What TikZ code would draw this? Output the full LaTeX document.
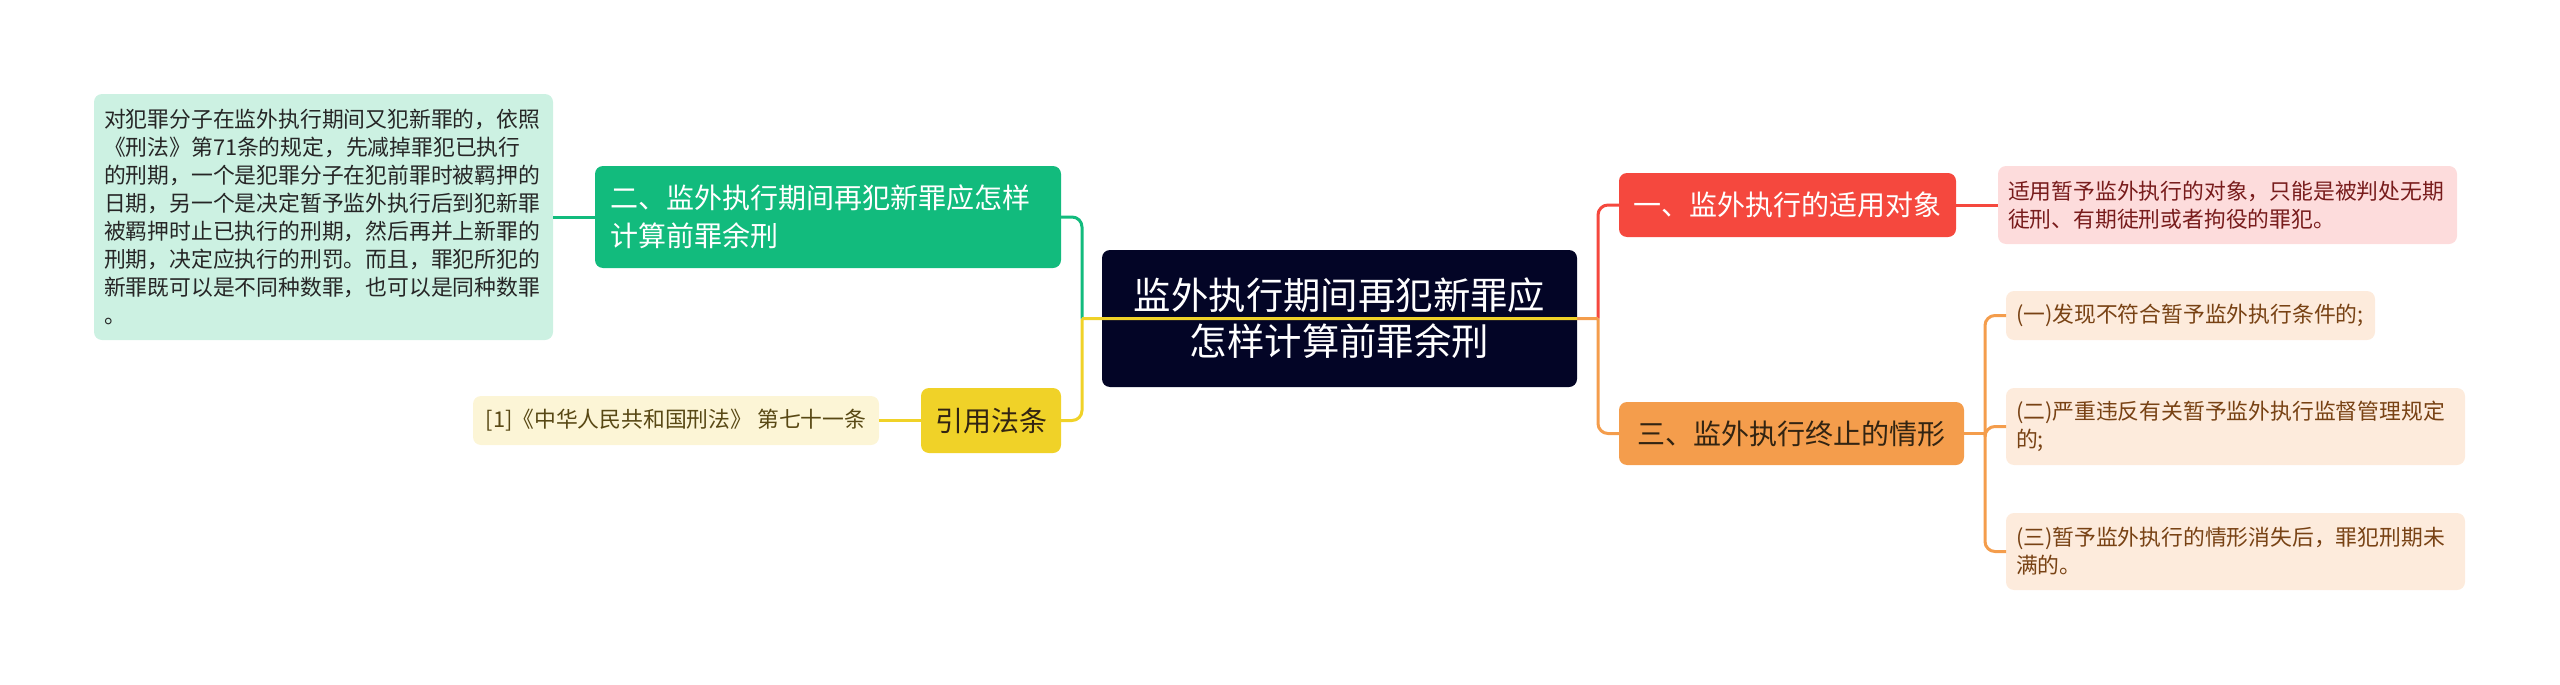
\documentclass[tikz,border=0pt]{standalone}
\usepackage{fontspec}
\setmainfont{Noto Sans CJK SC}
\usetikzlibrary{positioning}

\definecolor{rootbg}{RGB}{3,5,38}
\definecolor{greenc}{RGB}{18,187,125}
\definecolor{greenbg}{RGB}{204,241,226}
\definecolor{yellowc}{RGB}{240,210,40}
\definecolor{yellowbg}{RGB}{252,245,214}
\definecolor{yellowtx}{RGB}{88,72,20}
\definecolor{redc}{RGB}{245,72,62}
\definecolor{redbg}{RGB}{253,220,220}
\definecolor{redtx}{RGB}{120,28,28}
\definecolor{orangec}{RGB}{244,157,76}
\definecolor{orangebg}{RGB}{253,235,220}
\definecolor{orangetx}{RGB}{120,66,20}
\definecolor{darktx}{RGB}{50,36,18}

\begin{document}
\begin{tikzpicture}[x=0.5pt,y=-0.5pt]
  \tikzstyle{every node}=[rectangle,rounded corners=4pt,inner sep=0,outer sep=0]
  \tikzstyle{root}=[fill=rootbg,text=white,align=center,font=\fontsize{18.7}{23}\selectfont]
  \tikzstyle{topic}=[align=center,font=\fontsize{14}{19}\selectfont]
  \tikzstyle{note}=[align=left,font=\fontsize{10.9}{14}\selectfont]
  \tikzstyle{link}=[line width=1.5pt,rounded corners=5pt]
  \useasboundingbox (0,0) rectangle (2560,685);

  % centre
  \node[root,minimum width=237.5pt,minimum height=68.5pt] (root) at (1339.5,318.5)
    {监外执行期间再犯新罪应\\怎样计算前罪余刑};

  % left side
  \node[topic,fill=greenc,text=white,align=left,text width=218pt,inner xsep=7.5pt,minimum height=51pt]
    (sec2) at (828,217) {二、监外执行期间再犯新罪应怎样\\计算前罪余刑};
  \node[note,fill=greenbg,text=black!85,text width=219.5pt,inner xsep=5pt,minimum height=123pt,left=21pt of sec2]
    (sec2note) {对犯罪分子在监外执行期间又犯新罪的，依照\\《刑法》第71条的规定，先减掉罪犯已执行\\的刑期，一个是犯罪分子在犯前罪时被羁押的\\日期，另一个是决定暂予监外执行后到犯新罪\\被羁押时止已执行的刑期，然后再并上新罪的\\刑期，决定应执行的刑罚。而且，罪犯所犯的\\新罪既可以是不同种数罪，也可以是同种数罪\\。};
  \node[topic,fill=yellowc,text=darktx,minimum width=70pt,minimum height=32.5pt]
    (cite) at (991,420.5) {引用法条};
  \node[note,fill=yellowbg,text=yellowtx,minimum width=203pt,minimum height=24.5pt,left=21pt of cite]
    (citenote) {[1]《中华人民共和国刑法》 第七十一条};

  % right side
  \node[topic,fill=redc,text=white,minimum width=168.5pt,minimum height=32pt]
    (sec1) at (1787.5,205) {一、监外执行的适用对象};
  \node[note,fill=redbg,text=redtx,text width=219.5pt,inner xsep=5pt,minimum height=39pt,right=21pt of sec1]
    (sec1note) {适用暂予监外执行的对象，只能是被判处无期\\徒刑、有期徒刑或者拘役的罪犯。};
  \node[topic,fill=orangec,text=darktx,minimum width=172.5pt,minimum height=31.5pt]
    (sec3) at (1791.5,433.5) {三、监外执行终止的情形};
  \node[note,fill=orangebg,text=orangetx,text width=174.5pt,inner xsep=5pt,minimum height=24.5pt,anchor=west]
    (sec3a) at (2006,315.5) {(一)发现不符合暂予监外执行条件的;};
  \node[note,fill=orangebg,text=orangetx,text width=219.5pt,inner xsep=5pt,minimum height=38.5pt,anchor=west]
    (sec3b) at (2006,426.5) {(二)严重违反有关暂予监外执行监督管理规定\\的;};
  \node[note,fill=orangebg,text=orangetx,text width=219.5pt,inner xsep=5pt,minimum height=38.5pt,anchor=west]
    (sec3c) at (2006,551.5) {(三)暂予监外执行的情形消失后，罪犯刑期未\\满的。};

  % junctions
  \coordinate (lj) at ([xshift=-10pt]root.west);
  \coordinate (rj) at ([xshift=10.5pt]root.east);
  \coordinate (oj) at ([xshift=10.5pt]sec3.east);

  % connectors
  \draw[link,draw=greenc] (sec2.east) -| (lj);
  \draw[link,draw=yellowc] (root.east) -- (lj) (lj) |- (cite.east);
  \draw[link,draw=redc] (rj) |- (sec1.west);
  \draw[link,draw=orangec] (root.east) -- (rj) (rj) |- (sec3.west);
  \draw[link,draw=greenc] (sec2) -- (sec2note);
  \draw[link,draw=yellowc] (cite) -- (citenote);
  \draw[link,draw=redc] (sec1) -- (sec1note);
  \draw[link,draw=orangec] (sec3.east) -- (oj);
  \foreach \n in {sec3a,sec3b,sec3c}
    \draw[link,draw=orangec] (oj) |- (\n.west);
\end{tikzpicture}
\end{document}
